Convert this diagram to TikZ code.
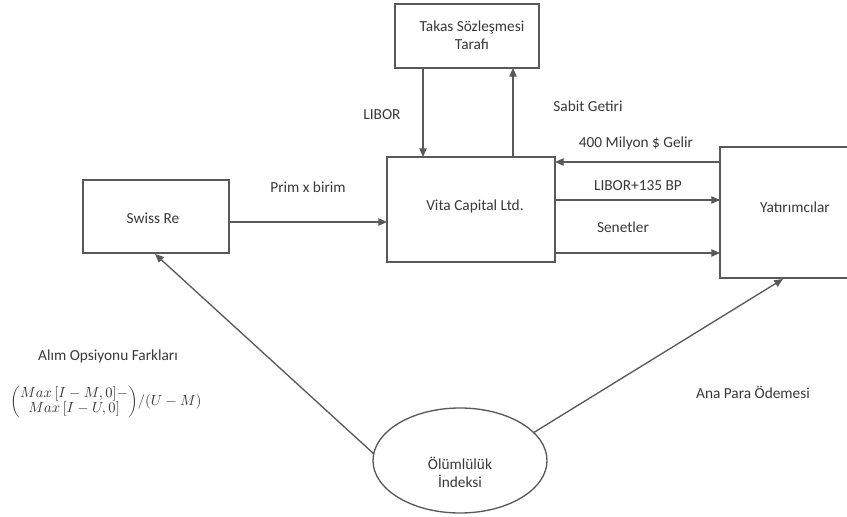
\documentclass[tikz,border=0pt]{standalone}
\usepackage{fontspec}
\setmainfont{Carlito}
\usetikzlibrary{arrows.meta,shapes.geometric}
\begin{document}
\begin{tikzpicture}[x=0.75pt,y=-0.75pt,
  box/.style={draw=black!65,line width=1pt,fill=white,inner sep=0pt},
  lbl/.style={font=\fontsize{11.5}{13.5}\selectfont,text=black!78,align=center,inner sep=0pt},
  con/.style={draw=black!65,line width=1pt,-{Triangle[length=6.5pt,width=5.5pt]}}]
\useasboundingbox (0,0) rectangle (847,517);
\clip (0,0) rectangle (847,517);
% boxes
\node[box,minimum width=144*0.75pt,minimum height=64*0.75pt] (takas) at (467,36) {};
\node[box,minimum width=168*0.75pt,minimum height=105*0.75pt] (vita) at (471,209.5) {};
\node[box,minimum width=146*0.75pt,minimum height=73*0.75pt] (swiss) at (156,216.5) {};
\node[box,minimum width=150*0.75pt,minimum height=131*0.75pt] (yat) at (795,212.5) {};
\node[ellipse,draw=black!65,line width=1pt,minimum width=174*0.75pt,minimum height=105*0.75pt,inner sep=0pt] (olum) at (460,460.5) {};
% texts
\node[lbl] (takast) at (472,35) {Takas Sözleşmesi\\Tarafı};
\node[lbl] (vitat) at (475,206) {Vita Capital Ltd.};
\node[lbl] (swisst) at (153,218) {Swiss Re};
\node[lbl] (yatt) at (795,207) {Yatırımcılar};
\node[lbl] (olumt) at (460,472) {Ölümlülük\\İndeksi};
% connectors
\coordinate (t1) at (423,68);
\coordinate (v1) at (423,157);
\coordinate (t2) at (513,68);
\coordinate (v2) at (513,157);
\draw[con] (t1) -- (v1);
\draw[con] (v2) -- (t2);
\coordinate (y1) at (720,162);
\coordinate (v3) at (555,162);
\draw[con] (y1) -- (v3);
\coordinate (v4) at (555,200);
\coordinate (y2) at (720,200);
\draw[con] (v4) -- (y2);
\coordinate (v5) at (555,253);
\coordinate (y3) at (720,253);
\draw[con] (v5) -- (y3);
\coordinate (s1) at (229,222);
\coordinate (v6) at (387,222);
\draw[con] (s1) -- (v6);
\coordinate (o1) at (374,454);
\coordinate (s2) at (155,254);
\draw[con] (o1) -- (s2);
\coordinate (o2) at (533,433);
\coordinate (y4) at (783,279);
\draw[con] (o2) -- (y4);
% labels
\node[lbl] (l1) at (382,115) {LIBOR};
\node[lbl] (l2) at (588,106) {Sabit Getiri};
\node[lbl] (l3) at (636,143) {400 Milyon \$ Gelir};
\node[lbl] (l4) at (638,186) {LIBOR+135 BP};
\node[lbl] (l5) at (623,227) {Senetler};
\node[lbl] (l6) at (308,187) {Prim x birim};
\node[lbl] (l7) at (108,356) {Alım Opsiyonu Farkları};
\node[lbl] (l8) at (753,392) {Ana Para Ödemesi};
\node[lbl,font=\fontsize{11.2}{11.5}\selectfont] (l9) at (106,402) {$\left(\begin{array}{@{}c@{}}Max\,[I-M,0]-\\ Max\,[I-U,0]\end{array}\right)\!/(U-M)$};
\end{tikzpicture}
\end{document}
